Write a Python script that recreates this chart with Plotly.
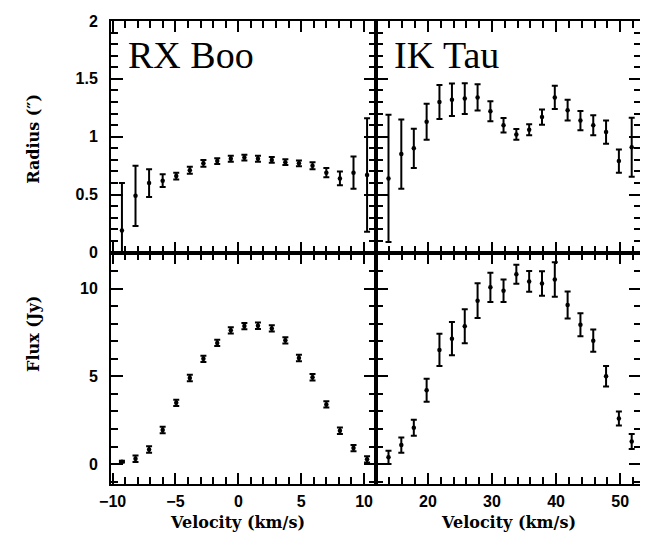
import plotly.graph_objects as go
from plotly.subplots import make_subplots

# ---------------- data ----------------
rx_vel = [-9.26, -8.18, -7.10, -6.02, -4.94, -3.86, -2.78, -1.68, -0.60, 0.48,
          1.56, 2.66, 3.74, 4.82, 5.90, 7.00, 8.08, 9.16, 10.24]
rx_radius = [0.19, 0.49, 0.60, 0.62, 0.66, 0.71, 0.77, 0.79, 0.81, 0.82,
             0.81, 0.80, 0.78, 0.77, 0.75, 0.69, 0.64, 0.69, 0.67]
rx_radius_err = [0.41, 0.26, 0.12, 0.055, 0.03, 0.03, 0.03, 0.025, 0.025, 0.025,
                 0.025, 0.025, 0.025, 0.025, 0.03, 0.04, 0.06, 0.14, 0.49]
rx_flux = [0.13, 0.30, 0.83, 1.94, 3.49, 4.91, 6.00, 6.91, 7.63, 7.87,
           7.89, 7.74, 7.06, 6.05, 4.95, 3.40, 1.90, 0.91, 0.27]
rx_flux_err = [0.05, 0.18, 0.18, 0.18, 0.18, 0.18, 0.18, 0.18, 0.18, 0.18,
               0.18, 0.18, 0.18, 0.18, 0.18, 0.18, 0.18, 0.18, 0.18]

ik_vel = [13.85, 15.85, 17.8, 19.8, 21.8, 23.75, 25.75, 27.75, 29.75, 31.8,
          33.8, 35.8, 37.8, 39.8, 41.8, 43.8, 45.8, 47.8, 49.8, 51.8]
ik_radius = [0.64, 0.85, 0.90, 1.13, 1.30, 1.32, 1.33, 1.34, 1.22, 1.10,
             1.02, 1.06, 1.17, 1.34, 1.23, 1.14, 1.10, 1.04, 0.79, 0.91]
ik_radius_err = [0.55, 0.30, 0.17, 0.155, 0.147, 0.14, 0.133, 0.113, 0.086, 0.063,
                 0.046, 0.047, 0.066, 0.10, 0.089, 0.083, 0.086, 0.10, 0.10, 0.255]
ik_flux = [0.38, 1.08, 2.07, 4.21, 6.51, 7.15, 7.86, 9.32, 10.08, 9.89,
           10.83, 10.42, 10.30, 10.53, 9.07, 7.95, 7.04, 5.01, 2.60, 1.29]
ik_flux_err = [0.38, 0.43, 0.46, 0.66, 0.92, 0.95, 0.97, 0.99, 0.83, 0.64,
               0.54, 0.59, 0.70, 0.99, 0.77, 0.66, 0.63, 0.58, 0.40, 0.43]

radius_ticks = [0, 0.5, 1, 1.5, 2]
radius_ticktext = ["0", "0.5", "1", "1.5", "2"]
flux_ticks = [0, 5, 10]
rx_xticks = [-10, -5, 0, 5, 10]
rx_xticktext = ["\u221210", "\u22125", "0", "5", "10"]
ik_xticks = [20, 30, 40, 50]

# ---------------- figure ----------------
fig = make_subplots(rows=2, cols=2, horizontal_spacing=0, vertical_spacing=0)

def add(x, y, e, row, col):
    fig.add_trace(go.Scatter(
        x=x, y=y, mode="markers",
        marker=dict(color="black", size=4.5),
        error_y=dict(type="data", array=e, visible=True, color="black",
                     thickness=2, width=3),
        showlegend=False), row=row, col=col)

add(rx_vel, rx_radius, rx_radius_err, 1, 1)
add(ik_vel, ik_radius, ik_radius_err, 1, 2)
add(rx_vel, rx_flux, rx_flux_err, 2, 1)
add(ik_vel, ik_flux, ik_flux_err, 2, 2)

TC = "black"
tickfont = dict(family="Liberation Sans", size=16, color="black", weight="bold")

def axis(rng, vals, major_len, minor_dtick, **extra):
    d = dict(range=rng, tickvals=vals, ticks="inside", ticklen=major_len,
             tickcolor=TC, tickwidth=2, showline=True, linecolor="black",
             linewidth=2, mirror="allticks", showgrid=False, zeroline=False,
             tickfont=tickfont,
             minor=dict(dtick=minor_dtick, tick0=0, ticks="inside", ticklen=7,
                        tickcolor=TC, tickwidth=2, showgrid=False))
    d.update(extra)
    return d

rx_rng = [-10.13, 10.95]
ik_rng = [11.9, 53.25]
fig.update_xaxes(row=1, col=1, **axis(rx_rng, rx_xticks, 11, 1, showticklabels=False))
fig.update_xaxes(row=2, col=1, **axis(rx_rng, rx_xticks, 11, 1, ticktext=rx_xticktext,
                                      ticklabelstandoff=2))
fig.update_xaxes(row=1, col=2, **axis(ik_rng, ik_xticks, 11, 2, showticklabels=False))
fig.update_xaxes(row=2, col=2, **axis(ik_rng, ik_xticks, 11, 2, ticklabelstandoff=2))

fig.update_yaxes(row=1, col=1, **axis([0, 2], radius_ticks, 12, 0.1,
                                      ticktext=radius_ticktext, ticklabelstandoff=8))
fig.update_yaxes(row=1, col=2, **axis([0, 2], radius_ticks, 12, 0.1, showticklabels=False))
fig.update_yaxes(row=2, col=1, **axis([-1.14, 12.07], flux_ticks, 12, 1, ticklabelstandoff=8))
fig.update_yaxes(row=2, col=2, **axis([-1.14, 12.07], flux_ticks, 12, 1, showticklabels=False))

# plot area in page pixels: x 111..643, y 19..484 (page offset 8px by body margin)
def px(xp):
    return (xp - 111) / 532

def py(yp):
    return (484 - yp) / 465

title_font = dict(family="Liberation Serif", size=38, color="black")
fig.add_annotation(text="RX Boo", xref="paper", yref="paper", x=px(126), y=py(53),
                   xanchor="left", yanchor="middle", showarrow=False, font=title_font)
fig.add_annotation(text="IK Tau", xref="paper", yref="paper", x=px(393), y=py(53),
                   xanchor="left", yanchor="middle", showarrow=False, font=title_font)

lab_font = dict(family="DejaVu Serif", size=16, color="black", weight="bold")
fig.add_annotation(text="Radius (\u2033)", xref="paper", yref="paper",
                   x=px(33), y=py(137), textangle=-90,
                   xanchor="center", yanchor="middle", showarrow=False, font=lab_font)
fig.add_annotation(text="Flux (Jy)", xref="paper", yref="paper",
                   x=px(33), y=py(333), textangle=-90,
                   xanchor="center", yanchor="middle", showarrow=False, font=lab_font)
fig.add_annotation(text="Velocity (km/s)", xref="paper", yref="paper",
                   x=px(238), y=py(523),
                   xanchor="center", yanchor="middle", showarrow=False, font=lab_font)
fig.add_annotation(text="Velocity (km/s)", xref="paper", yref="paper",
                   x=px(510), y=py(523),
                   xanchor="center", yanchor="middle", showarrow=False, font=lab_font)

fig.update_layout(width=640, height=525,
                  margin=dict(l=103, r=5, t=11, b=49),
                  paper_bgcolor="white", plot_bgcolor="white")

fig.write_html("out.html")
